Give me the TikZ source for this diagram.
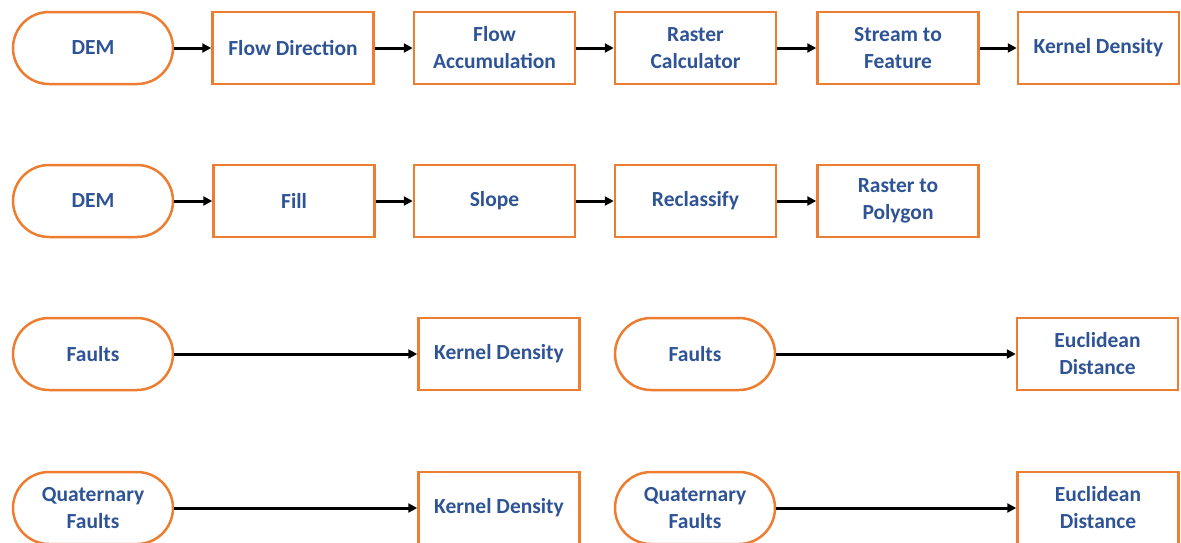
\documentclass[tikz,border=0pt]{standalone}
\usepackage{fontspec}
\setmainfont{Carlito}
\usetikzlibrary{arrows.meta}

\definecolor{boxorange}{RGB}{237,125,49}
\definecolor{textblue}{RGB}{47,84,150}

\begin{document}
\begin{tikzpicture}[x=1pt,y=-1pt,
	tool/.style={draw=boxorange,line width=2.5pt,fill=white,minimum width=161pt,minimum height=72pt,
		align=center,text=textblue,font=\fontsize{21.5}{27}\selectfont\bfseries,inner sep=0pt},
	data/.style={tool,rounded corners=36pt,minimum width=160pt},
	flow/.style={line width=3pt,-{Triangle[length=9pt,width=9pt]}}]
	\useasboundingbox (0,0) rectangle (1181,542);
	% hydrology
	\node[data] (dem1) at (93,48) {DEM};
	\node[tool] (fdir) at (293,48) {Flow Direction};
	\node[tool] (facc) at (494.5,48) {Flow\\Accumulation};
	\node[tool] (rcalc) at (695.5,48) {Raster\\Calculator};
	\node[tool] (s2f) at (898,48) {Stream to\\Feature};
	\node[tool] (kd1) at (1098.5,48) {Kernel Density};
	\draw[flow] (dem1) -- (fdir);
	\draw[flow] (fdir) -- (facc);
	\draw[flow] (facc) -- (rcalc);
	\draw[flow] (rcalc) -- (s2f);
	\draw[flow] (s2f) -- (kd1);
	% slope
	\node[data] (dem2) at (93,201) {DEM};
	\node[tool] (fill) at (294,201) {Fill};
	\node[tool] (slope) at (494.5,201) {Slope};
	\node[tool] (recl) at (695.5,201) {Reclassify};
	\node[tool] (r2p) at (898,201) {Raster to\\Polygon};
	\draw[flow] (dem2) -- (fill);
	\draw[flow] (fill) -- (slope);
	\draw[flow] (slope) -- (recl);
	\draw[flow] (recl) -- (r2p);
	% faults
	\node[data] (flt1) at (93,354) {Faults};
	\node[tool] (kd2) at (499,354) {Kernel Density};
	\node[data] (flt2) at (695,354) {Faults};
	\node[tool] (ed1) at (1097.5,354) {Euclidean\\Distance};
	\draw[flow] (flt1) -- (kd2);
	\draw[flow] (flt2) -- (ed1);
	% quaternary faults
	\node[data] (qf1) at (93,508) {Quaternary\\Faults};
	\node[tool] (kd3) at (499,508) {Kernel Density};
	\node[data] (qf2) at (695,508) {Quaternary\\Faults};
	\node[tool] (ed2) at (1098,508) {Euclidean\\Distance};
	\draw[flow] (qf1) -- (kd3);
	\draw[flow] (qf2) -- (ed2);
\end{tikzpicture}
\end{document}
